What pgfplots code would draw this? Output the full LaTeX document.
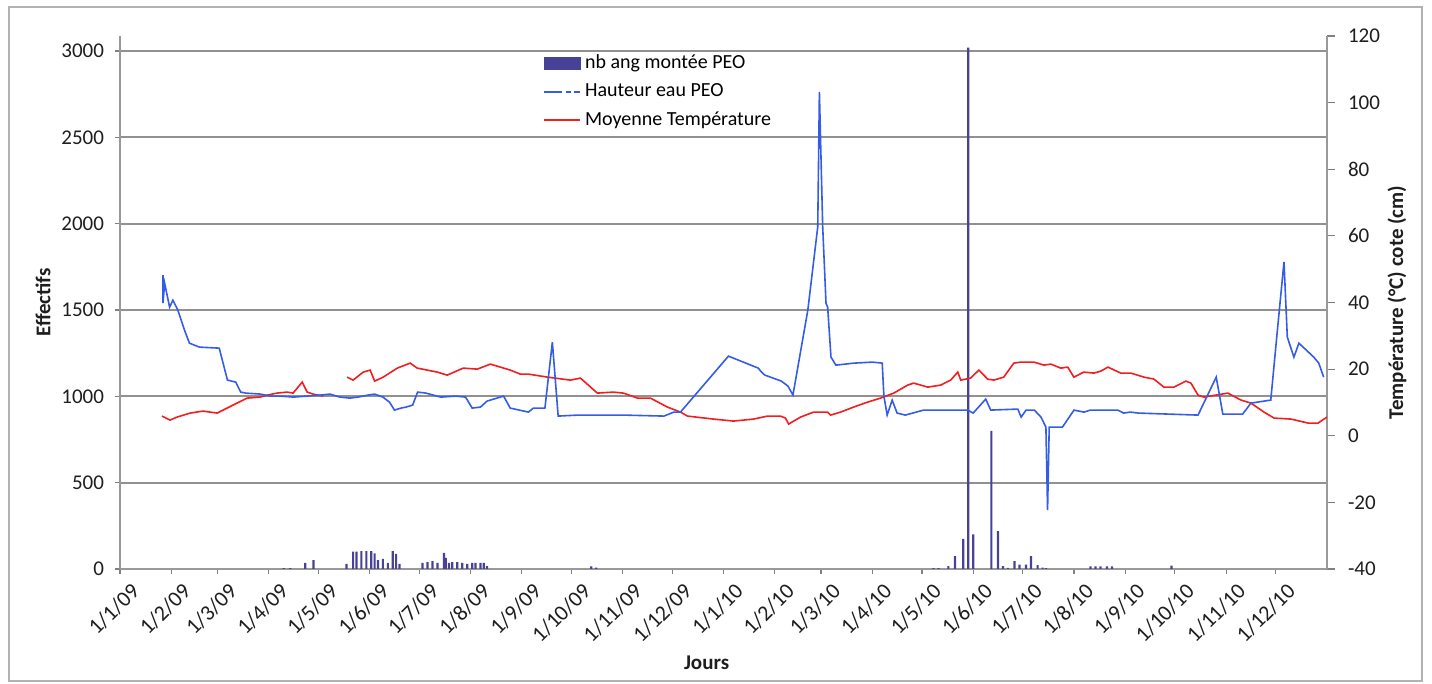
\documentclass[border=0pt]{standalone}
\usepackage{pgfplots}
\pgfplotsset{compat=1.18}
\usepackage{fontspec}
\setmainfont{Carlito}
\definecolor{barcol}{RGB}{72,66,150}
\definecolor{bluecol}{RGB}{52,92,232}
\definecolor{redcol}{RGB}{240,30,30}
\definecolor{gridcol}{RGB}{145,145,145}
\definecolor{txtcol}{RGB}{30,30,30}
\pgfplotsset{
  mybase/.style={
    scale only axis, width=603.5pt, height=266.5pt,
    at={(60pt,57.5pt)}, anchor=south west,
    xmin=0, xmax=730,
    tick label style={font=\fontsize{10.5}{12}\selectfont, text=txtcol},
    /pgf/number format/assume math mode=true,
    /pgf/number format/1000 sep={},
    tick align=outside,
    axis line style={black!40, line width=0.6pt},
    tick style={black!50, line width=0.6pt},
  }
}
\begin{document}
\begin{tikzpicture}[x=1pt,y=1pt]
\useasboundingbox (0,0) rectangle (716,342);
\draw[black!30, line width=0.8pt] (4.5,1.5) rectangle (711,338.5);
\begin{axis}[mybase,
  ymin=0, ymax=3087,
  axis x line*=bottom, axis y line*=left,
  ytick={0,500,...,3000},
  ymajorgrids, grid style={gridcol, line width=0.9pt},
  major tick length=2.5pt,
  xtick={0,31,59,90,120,151,181,212,243,273,304,334,365,396,424,455,485,516,546,577,608,638,669,699},
  xticklabels={1/1/09,1/2/09,1/3/09,1/4/09,1/5/09,1/6/09,1/7/09,1/8/09,1/9/09,1/10/09,1/11/09,1/12/09,1/1/10,1/2/10,1/3/10,1/4/10,1/5/10,1/6/10,1/7/10,1/8/10,1/9/10,1/10/10,1/11/10,1/12/10},
  xticklabel style={rotate=45, anchor=north east, inner sep=1pt, xshift=2pt, yshift=-5pt, font=\fontsize{11}{12}\selectfont},
  yticklabel style={xshift=-2pt},
  ylabel={\textbf{Effectifs}}, xlabel={\textbf{Jours}},
  every axis y label/.style={at={(axis description cs:-0.0638,0.5)}, rotate=90, anchor=center, font=\fontsize{10.5}{12}\selectfont, text=txtcol},
  every axis x label/.style={at={(axis description cs:0.486,-0.176)}, anchor=center, font=\fontsize{10.5}{12}\selectfont, text=txtcol},
]
\addplot[ybar, bar width=1.1pt, bar shift=0pt, fill=barcol, draw=none] coordinates {
(99,5) (103,5) (112,35) (117,52) (137,30) (141,100) (143,100) (146,104) (149,104) (152,104)
(154,90) (156,52) (159,58) (162,35) (165,104) (167,87) (169,30) (183,35) (186,40) (189,46)
(192,35) (196,93) (197,64) (199,35) (201,40) (204,40) (207,35) (210,29) (213,35) (215,35)
(218,35) (220,35) (222,17) (285,15) (288,8) (492,5) (495,5) (501,17) (505,75) (510,174)
(513,3020) (516,200) (527,800) (531,220) (534,17) (537,6) (541,45) (544,25) (548,25) (551,75)
(555,23) (558,8) (560,5) (587,15) (590,15) (593,15) (597,15) (600,15) (636,20)
};
\end{axis}
\begin{axis}[mybase,
  ymin=-40, ymax=120,
  axis y line*=right, axis x line=none,
  ytick={-40,-20,...,120},
  major tick length=4pt,
  yticklabel style={xshift=3pt},
  ylabel={\textbf{Température (°C) cote (cm)}},
  every axis y label/.style={at={(axis description cs:1.058,0.5)}, rotate=90, anchor=center, font=\fontsize{10.5}{12}\selectfont, text=txtcol},
  unbounded coords=jump,
  legend style={at={(axis description cs:0.350,0.973)}, anchor=north west, draw=none, fill=none,
    font=\fontsize{10}{12}\selectfont, row sep=2pt, inner sep=0pt},
  legend cell align=left,
]
\addlegendimage{legend image code/.code={\fill[barcol] (0pt,-3pt) rectangle (18pt,3pt);}}
\addlegendentry{nb ang montée PEO}
\addlegendimage{legend image code/.code={
  \draw[draw=bluecol, line width=1.1pt] (0pt,0pt) -- (9pt,0pt);
  \draw[draw=bluecol, line width=1.1pt] (11pt,0pt) -- (13.5pt,0pt);
  \draw[draw=bluecol, line width=1.1pt] (15pt,0pt) -- (18pt,0pt);}}
\addlegendentry{Hauteur eau PEO}
\addlegendimage{legend image code/.code={\draw[draw=redcol, line width=1.1pt] (0pt,0pt) -- (18pt,0pt);}}
\addlegendentry{Moyenne Température}
\addplot[forget plot, draw=redcol, line width=0.8pt] coordinates {
(25.4,5.9) (30.3,4.7) (34.5,5.6) (42.4,6.8) (50.2,7.4) (58.7,6.8) (70.8,9.8) (76.9,11.3) (84.7,11.6) (89,12.2)
(95,12.8) (101,13.1) (104.7,12.8) (110.2,16.1) (113.2,13.1) (116.8,12.5) (122.9,11.9) (130,nan)
(137.4,17.6) (141,16.7) (147.1,19.1) (151.3,19.7) (154,16.4) (159.2,17.6) (167.7,20.3) (175.5,21.8) (179.8,20.3) (191.9,19.1)
(197.9,18.2) (207.6,20.3) (216.1,20.0) (224,21.5) (236.1,19.7) (242.1,18.5) (247,18.5) (258.5,17.6) (272.4,16.7) (278.5,17.3)
(288.7,12.8) (298.4,13.1) (304.5,12.8) (313,11.3) (320.8,11.3) (331.1,8.6) (339,7.1) (343.2,5.9) (359,5.0) (371,4.4)
(383.2,5.0) (391.6,5.9) (399.5,5.9) (402.5,5.3) (404.4,3.5) (411.6,5.6) (419.5,7.1) (428,7.1) (429.8,6.2) (435.8,7.1)
(443.7,8.6) (452.2,10.1) (460,11.3) (468,12.8) (476.4,15.2) (480,15.8) (488.5,14.6) (496.4,15.2) (502.4,16.7) (506.7,19.1)
(508.5,16.7) (514.5,17.3) (519.4,19.7) (524.8,17.0) (528.5,16.7) (534.5,17.6) (540.6,21.8) (544.8,22.1) (552.7,22.1) (558.8,21.2)
(563,21.5) (569,20.3) (573.2,20.6) (576.9,17.6) (582.9,19.1) (589,18.8) (593.2,19.4) (597.5,20.6) (605.3,18.8) (611.4,18.8)
(619.3,17.6) (625.3,17.0) (631.4,14.6) (637.4,14.6) (644.7,16.4) (647.7,15.8) (652,12.2) (655.6,11.6) (670,12.8) (678,10.7)
(684,9.8) (691.9,7.1) (698,5.3) (708.3,5.0) (718.6,3.8) (724.6,3.8) (730,5.6)
};
\addplot[forget plot, draw=bluecol, line width=0.8pt] coordinates {
(26,48.2) (26,39.8) (27,45.8) (30,38.6) (32,40.7) (35,37.7) (39,31.7) (42,27.8) (48,26.6) (60,26.3)
(65,16.7) (70,16.1) (73,13.1) (76,12.8) (85,12.5) (91,11.9) (97,11.9) (105,11.6) (121,12.2) (127,12.5)
(133,11.6) (139,11.3) (144,11.6) (150,12.2) (154,12.5) (159,11.6) (163,10.1) (166,7.7) (170,8.3) (173,8.6)
(177,9.2) (180,13.1) (185,12.8) (194,11.6) (203,11.9) (209,11.6) (213,8.3) (218,8.6) (222,10.4) (232,11.9)
(236,8.3) (247,7.1) (250,8.3) (257,8.3) (261.5,28.1) (265,5.9) (277,6.2) (304.5,6.2) (329,5.9) (335,7.1)
(339,7.1) (368,23.9) (386,20.3) (388,19.1) (390,18.2) (400,16.4) (404,14.9) (407,12.2) (416,37.7) (422,62.7)
(423,103.2) (425,62.7) (427,39.8) (428,38.6) (430,23.6) (433,21.2) (444,21.8) (455,22.1) (461,21.8) (462,11.9)
(464,6.2) (467,10.7) (470,6.8) (475,6.2) (486,7.7) (512.7,7.7) (516,6.8) (523.6,11.0) (526.6,7.7) (543,8.0)
(545,5.6) (548,7.7) (553,7.7) (557,5.6) (560,2.6) (561,-22.3) (562,2.6) (570,2.6) (577,7.7) (583,7.1)
(587,7.7) (603.5,7.7) (607,6.8) (611,7.1) (616,6.8) (652,6.2) (663,17.6) (667,6.5) (679,6.5) (684,9.8)
(696,10.7) (700,31.7) (704,52.2) (706,29.6) (710,23.6) (713,27.8) (722,23.6) (725,21.8) (728,17.6)
};
\end{axis}
\end{tikzpicture}
\end{document}
